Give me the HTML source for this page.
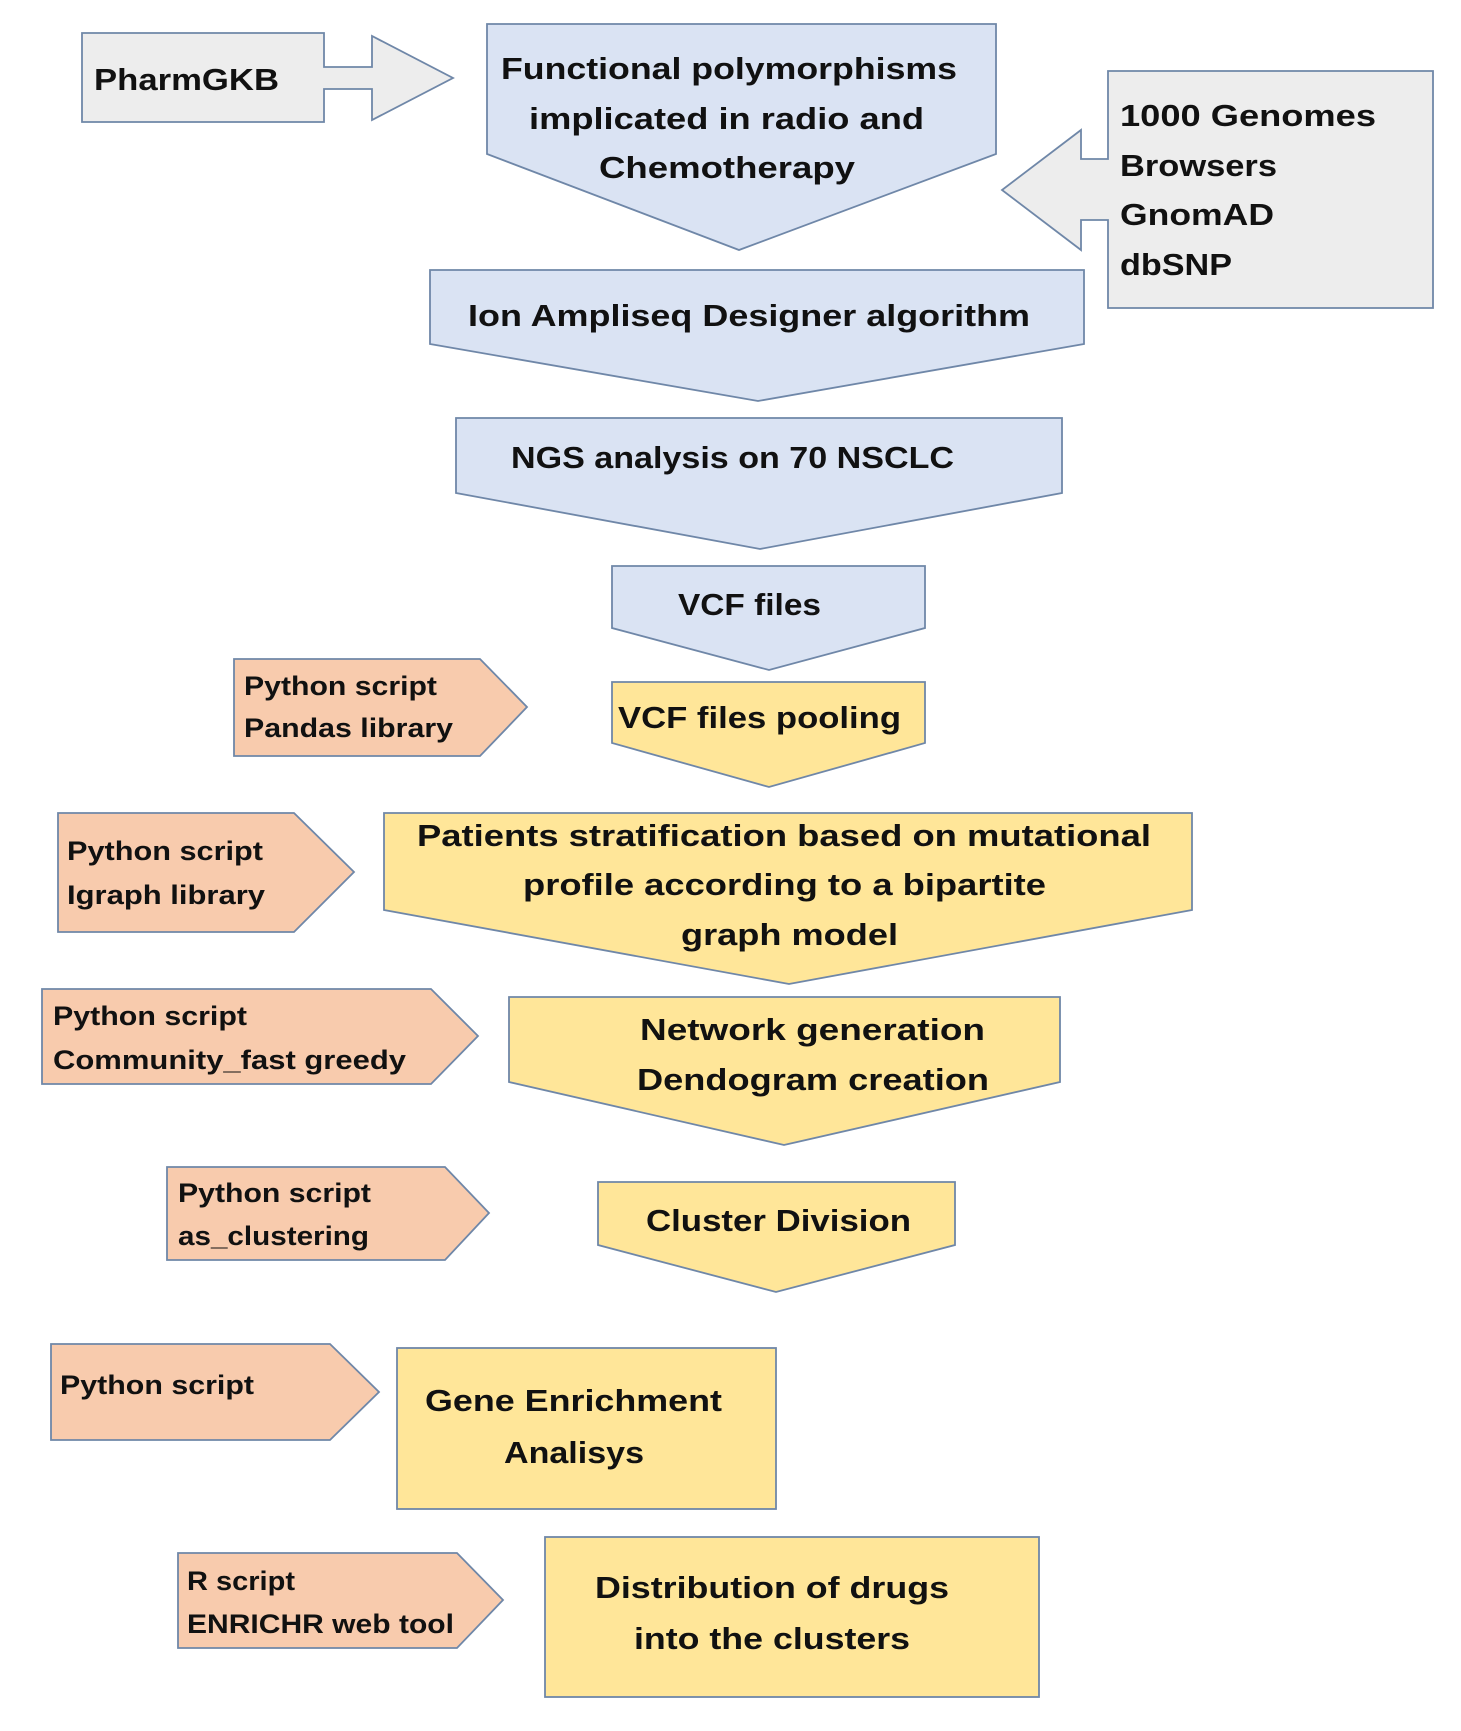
<!DOCTYPE html>
<html><head><meta charset="utf-8"><style>
html,body{margin:0;padding:0;background:#fff;}
svg{display:block;}
text{font-family:"Liberation Sans",sans-serif;font-weight:bold;fill:#111;}
.m{font-size:31px;}
.s{font-size:27px;}
</style></head><body>
<svg width="1461" height="1731" viewBox="0 0 1461 1731" xmlns="http://www.w3.org/2000/svg">
<g stroke="#6f87a8" stroke-width="1.8" stroke-linejoin="miter">
<polygon fill="#ededed" points="82,33 324,33 324,67 372,67 372,36 453,78 372,120 372,89 324,89 324,122 82,122"/>
<polygon fill="#ededed" points="1108,71 1433,71 1433,308 1108,308 1108,220 1081,220 1081,250 1002,190 1081,130 1081,159 1108,159"/>
<polygon fill="#dae3f3" points="487,24 996,24 996,154 739,250 487,154"/>
<polygon fill="#dae3f3" points="430,270 1084,270 1084,344 758,401 430,344"/>
<polygon fill="#dae3f3" points="456,418 1062,418 1062,493 760,549 456,493"/>
<polygon fill="#dae3f3" points="612,566 925,566 925,628 769,670 612,628"/>
<polygon fill="#ffe699" points="612,682 925,682 925,743 769,787 612,743"/>
<polygon fill="#ffe699" points="384,813 1192,813 1192,910 789,984 384,910"/>
<polygon fill="#ffe699" points="509,997 1060,997 1060,1082 784,1145 509,1082"/>
<polygon fill="#ffe699" points="598,1182 955,1182 955,1245 776,1292 598,1245"/>
<rect fill="#ffe699" x="397" y="1348" width="379" height="161"/>
<rect fill="#ffe699" x="545" y="1537" width="494" height="160"/>
<polygon fill="#f8cbad" points="234,659 480,659 527,707 480,756 234,756"/>
<polygon fill="#f8cbad" points="58,813 294,813 354,872 294,932 58,932"/>
<polygon fill="#f8cbad" points="42,989 431,989 478,1036 431,1084 42,1084"/>
<polygon fill="#f8cbad" points="167,1167 445,1167 489,1213 445,1260 167,1260"/>
<polygon fill="#f8cbad" points="51,1344 330,1344 379,1392 330,1440 51,1440"/>
<polygon fill="#f8cbad" points="178,1553 457,1553 503,1600 457,1648 178,1648"/>
</g>
<text class="m" x="94" y="90" textLength="185" lengthAdjust="spacingAndGlyphs">PharmGKB</text>
<text class="m" x="501" y="79" textLength="456" lengthAdjust="spacingAndGlyphs">Functional polymorphisms</text>
<text class="m" x="529" y="129" textLength="395" lengthAdjust="spacingAndGlyphs">implicated in radio and</text>
<text class="m" x="599" y="178" textLength="256" lengthAdjust="spacingAndGlyphs">Chemotherapy</text>
<text class="m" x="1120" y="126" textLength="256" lengthAdjust="spacingAndGlyphs">1000 Genomes</text>
<text class="m" x="1120" y="176" textLength="157" lengthAdjust="spacingAndGlyphs">Browsers</text>
<text class="m" x="1120" y="225" textLength="154" lengthAdjust="spacingAndGlyphs">GnomAD</text>
<text class="m" x="1120" y="275" textLength="112" lengthAdjust="spacingAndGlyphs">dbSNP</text>
<text class="m" x="468" y="326" textLength="562" lengthAdjust="spacingAndGlyphs">Ion Ampliseq Designer algorithm</text>
<text class="m" x="511" y="468" textLength="443" lengthAdjust="spacingAndGlyphs">NGS analysis on 70 NSCLC</text>
<text class="m" x="678" y="615" textLength="143" lengthAdjust="spacingAndGlyphs">VCF files</text>
<text class="m" x="618" y="728" textLength="283" lengthAdjust="spacingAndGlyphs">VCF files pooling</text>
<text class="s" x="244" y="695" textLength="193" lengthAdjust="spacingAndGlyphs">Python script</text>
<text class="s" x="244" y="737" textLength="209" lengthAdjust="spacingAndGlyphs">Pandas library</text>
<text class="m" x="417" y="846" textLength="734" lengthAdjust="spacingAndGlyphs">Patients stratification based on mutational</text>
<text class="m" x="523" y="895" textLength="523" lengthAdjust="spacingAndGlyphs">profile according to a bipartite</text>
<text class="m" x="681" y="945" textLength="217" lengthAdjust="spacingAndGlyphs">graph model</text>
<text class="s" x="67" y="860" textLength="196" lengthAdjust="spacingAndGlyphs">Python script</text>
<text class="s" x="67" y="904" textLength="198" lengthAdjust="spacingAndGlyphs">Igraph library</text>
<text class="m" x="640" y="1040" textLength="345" lengthAdjust="spacingAndGlyphs">Network generation</text>
<text class="m" x="637" y="1090" textLength="352" lengthAdjust="spacingAndGlyphs">Dendogram creation</text>
<text class="s" x="53" y="1025" textLength="194" lengthAdjust="spacingAndGlyphs">Python script</text>
<text class="s" x="53" y="1069" textLength="353" lengthAdjust="spacingAndGlyphs">Community_fast greedy</text>
<text class="m" x="646" y="1231" textLength="265" lengthAdjust="spacingAndGlyphs">Cluster Division</text>
<text class="s" x="178" y="1202" textLength="193" lengthAdjust="spacingAndGlyphs">Python script</text>
<text class="s" x="178" y="1245" textLength="191" lengthAdjust="spacingAndGlyphs">as_clustering</text>
<text class="s" x="60" y="1394" textLength="194" lengthAdjust="spacingAndGlyphs">Python script</text>
<text class="m" x="425" y="1411" textLength="297" lengthAdjust="spacingAndGlyphs">Gene Enrichment</text>
<text class="m" x="504" y="1463" textLength="140" lengthAdjust="spacingAndGlyphs">Analisys</text>
<text class="s" x="187" y="1590" textLength="108" lengthAdjust="spacingAndGlyphs">R script</text>
<text class="s" x="187" y="1633" textLength="267" lengthAdjust="spacingAndGlyphs">ENRICHR web tool</text>
<text class="m" x="595" y="1598" textLength="354" lengthAdjust="spacingAndGlyphs">Distribution of drugs</text>
<text class="m" x="634" y="1649" textLength="276" lengthAdjust="spacingAndGlyphs">into the clusters</text>
</svg>
</body></html>
